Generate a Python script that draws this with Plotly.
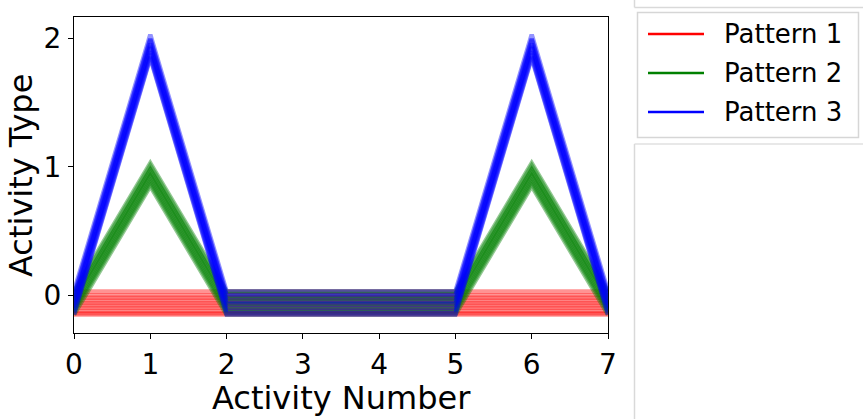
import plotly.graph_objects as go

# ---------------- data ----------------
activity_numbers = [0, 1, 2, 3, 4, 5, 6, 7]
pattern_names = ["Pattern 1", "Pattern 2", "Pattern 3"]
pattern_colors = ["#ff0000", "#008000", "#0000ff"]
pattern_1 = [0, 0, 0, 0, 0, 0, 0, 0]
pattern_2 = [0, 1, 0, 0, 0, 0, 1, 0]
pattern_3 = [0, 2, 0, 0, 0, 0, 2, 0]
red_offsets = [0.03, 0.00, -0.02, -0.04, -0.06, -0.08, -0.10, -0.12, -0.14, -0.15]
green_offsets = [0.03, 0.01, -0.02, -0.03, -0.05, -0.07, -0.09, -0.11, -0.13, -0.15]
blue_offsets = [0.03, 0.00, -0.01, -0.04, -0.06, -0.07, -0.10, -0.12, -0.14, -0.15]
x_ticks = [0, 1, 2, 3, 4, 5, 6, 7]
y_ticks = [0, 1, 2]

# ---------------- layout geometry (pixels) ----------------
W, H = 863, 419
L, R, T, B = 74, 608, 17, 333


def px(xp):
    return (xp - L) / (R - L)


def py(yp):
    return (B - yp) / (B - T)


fig = go.Figure()

patterns = [pattern_1, pattern_2, pattern_3]
offsets = [red_offsets, green_offsets, blue_offsets]
for i in range(len(red_offsets)):
    for k in range(3):
        fig.add_trace(go.Scatter(
            x=activity_numbers,
            y=[v + offsets[k][i] for v in patterns[k]],
            mode="lines",
            line=dict(color=pattern_colors[k], width=4.5),
            opacity=0.42,
            showlegend=False,
            hoverinfo="skip",
        ))

shapes = []
annotations = []

# legend frame
shapes.append(dict(type="rect", xref="paper", yref="paper",
                   x0=px(637.5), x1=px(858.5), y0=py(12.5), y1=py(137.5),
                   line=dict(color="#d6d6d6", width=1.5), fillcolor="white", layer="above"))
rows_y = [34, 73, 112]
for name, color, ry in zip(pattern_names, pattern_colors, rows_y):
    shapes.append(dict(type="line", xref="paper", yref="paper",
                       x0=px(648), x1=px(704), y0=py(ry), y1=py(ry),
                       line=dict(color=color, width=2.5), layer="above"))
    annotations.append(dict(xref="paper", yref="paper", x=px(722), y=py(ry),
                            xanchor="left", yanchor="middle", showarrow=False,
                            text=name, font=dict(family="DejaVu Sans", size=26, color="black")))

# outer gray frame lines at right
frame_col = "#d9d9d9"
shapes.append(dict(type="line", xref="paper", yref="paper", x0=px(634.5), x1=px(634.5),
                   y0=py(0), y1=py(7.5), line=dict(color=frame_col, width=1.5)))
shapes.append(dict(type="line", xref="paper", yref="paper", x0=px(634.5), x1=px(863),
                   y0=py(7.5), y1=py(7.5), line=dict(color=frame_col, width=1.5)))
shapes.append(dict(type="line", xref="paper", yref="paper", x0=px(634.5), x1=px(863),
                   y0=py(144), y1=py(144), line=dict(color="#e8e8e8", width=2)))
shapes.append(dict(type="line", xref="paper", yref="paper", x0=px(634.5), x1=px(634.5),
                   y0=py(144), y1=py(419), line=dict(color=frame_col, width=1.5)))

# axis titles
annotations.append(dict(xref="paper", yref="paper", x=px(341), y=py(398),
                        xanchor="center", yanchor="middle", showarrow=False,
                        text="Activity Number", font=dict(family="DejaVu Sans", size=32, color="black")))
annotations.append(dict(xref="paper", yref="paper", x=px(21), y=py(176),
                        xanchor="center", yanchor="middle", showarrow=False, textangle=-90,
                        text="Activity Type", font=dict(family="DejaVu Sans", size=32, color="black")))

fig.update_layout(
    width=W, height=H,
    margin=dict(l=L, r=W - R, t=T, b=H - B, autoexpand=False),
    paper_bgcolor="white", plot_bgcolor="white",
    font=dict(family="DejaVu Sans", color="black"),
    shapes=shapes, annotations=annotations,
    showlegend=False,
)
fig.update_xaxes(range=[0, 7], tickvals=x_ticks, ticktext=[str(t) for t in x_ticks],
                 showgrid=False, zeroline=False, showline=True, linecolor="black", linewidth=1.2,
                 mirror=True, ticks="outside", ticklen=5, tickwidth=1.2, tickcolor="black",
                 ticklabelstandoff=1,
                 tickfont=dict(size=28, family="DejaVu Sans", color="black"))
fig.update_yaxes(range=[-0.294, 2.168], tickvals=y_ticks, ticktext=[str(t) for t in y_ticks],
                 showgrid=False, zeroline=False, showline=True, linecolor="black", linewidth=1.2,
                 mirror=True, ticks="outside", ticklen=5, tickwidth=1.2, tickcolor="black",
                 ticklabelstandoff=1,
                 tickfont=dict(size=28, family="DejaVu Sans", color="black"))

fig.write_html("out.html")
